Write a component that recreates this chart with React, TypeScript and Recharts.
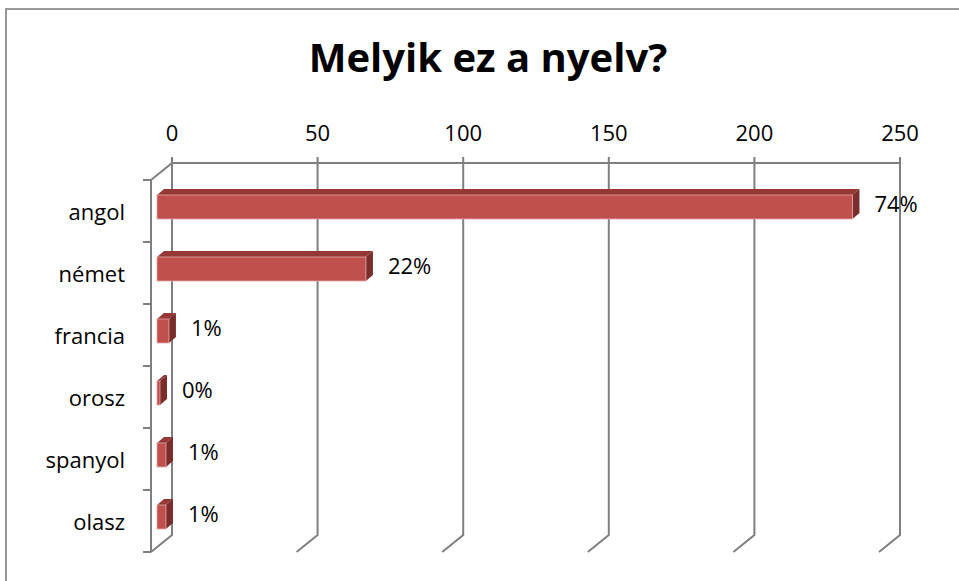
import React from 'react';
import { BarChart, Bar, XAxis, YAxis, CartesianGrid } from 'recharts';

const categories = ['angol', 'német', 'francia', 'orosz', 'spanyol', 'olasz'];
const values = [233, 70, 4, 1, 3, 3];
const percentLabels = ['74%', '22%', '1%', '0%', '1%', '1%'];
const xTicks = [0, 50, 100, 150, 200, 250];

const W = 959;
const H = 581;
const PLOT_TOP = 163;
const PLOT_LEFT = 172;
const PLOT_RIGHT = 900;
const PLOT_BOTTOM = 535;
const DEPTH_X = 21;
const DEPTH_Y = 17;
const BAND = (PLOT_BOTTOM - PLOT_TOP) / categories.length;
const WALL_X = PLOT_LEFT - DEPTH_X;

const FONT = '"Open Sans", "Liberation Sans", sans-serif';
const GRID = '#7f7f7f';

const data = categories.map((name, i) => ({ name, value: values[i] }));

// 3D box: front face shifted towards the viewer, top + side faces behind
function Bar3D(props: any) {
  const { x, y, width, height, index } = props;
  const fx = x - 15;
  const fy = y + 13;
  const fw = Math.max(width * 1.025, 1.5);
  const dx = 7;
  const dy = -6;
  return (
    <g>
      <polygon
        points={`${fx},${fy} ${fx + dx},${fy + dy} ${fx + fw + dx},${fy + dy} ${fx + fw},${fy}`}
        fill="#943735"
      />
      <polygon
        points={`${fx + fw},${fy} ${fx + fw + dx},${fy + dy} ${fx + fw + dx},${fy + height + dy} ${fx + fw},${fy + height}`}
        fill="#7b2d2b"
      />
      <rect x={fx} y={fy} width={fw} height={height} fill="#c0504d" stroke="#e3a9a7" strokeWidth={0.8} />
      <text x={fx + fw + dx + 15} y={fy + 17} fontSize={22} fontFamily={FONT} fill="#000">
        {percentLabels[index]}
      </text>
    </g>
  );
}

function XTick(props: any) {
  const { x, payload } = props;
  return (
    <g>
      <line x1={x} y1={PLOT_TOP - 6} x2={x} y2={PLOT_TOP} stroke={GRID} strokeWidth={2} />
      <text x={x} y={PLOT_TOP - 22} textAnchor="middle" fontSize={22} fontFamily={FONT} fill="#000">
        {payload.value}
      </text>
    </g>
  );
}

function YTick(props: any) {
  const { y, payload, index } = props;
  const top = y - BAND / 2 + DEPTH_Y;
  const last = index === categories.length - 1;
  return (
    <g>
      {index === 0 && (
        <line x1={WALL_X} y1={top} x2={PLOT_LEFT} y2={PLOT_TOP} stroke={GRID} strokeWidth={2} />
      )}
      <line x1={WALL_X - 8} y1={top} x2={WALL_X} y2={top} stroke={GRID} strokeWidth={2} />
      <line x1={WALL_X} y1={top} x2={WALL_X} y2={top + BAND} stroke={GRID} strokeWidth={2} />
      {last && (
        <line x1={WALL_X - 8} y1={top + BAND} x2={WALL_X} y2={top + BAND} stroke={GRID} strokeWidth={2} />
      )}
      <text x={WALL_X - 26} y={y + 26} textAnchor="end" fontSize={22} fontFamily={FONT} fill="#000">
        {payload.value}
      </text>
    </g>
  );
}

function GridLine(props: any) {
  const { x1, y1, y2 } = props;
  return (
    <path
      key={`g-${x1}`}
      d={`M${x1},${y1} V${y2} L${x1 - DEPTH_X},${y2 + DEPTH_Y}`}
      stroke={GRID}
      strokeWidth={2}
      fill="none"
    />
  );
}

export default function App() {
  return (
    <div
      style={{
        position: 'fixed',
        left: 0,
        top: 0,
        width: W,
        height: H,
        background: '#fff',
        overflow: 'hidden',
      }}
    >
      <div
        style={{
          position: 'absolute',
          left: 5,
          top: 8,
          width: 1200,
          height: 800,
          borderTop: '2px solid #999',
          borderLeft: '2px solid #999',
        }}
      />
      <div
        style={{
          position: 'absolute',
          left: 0,
          top: 37,
          width: 976,
          textAlign: 'center',
          fontFamily: FONT,
          fontWeight: 700,
          fontSize: 40,
          lineHeight: 1,
          color: '#000',
        }}
      >
        Melyik ez a nyelv?
      </div>
      <div style={{ position: 'absolute', left: 0, top: 0 }}>
        <BarChart
          width={W}
          height={H}
          data={data}
          layout="vertical"
          margin={{ top: PLOT_TOP - 30, left: PLOT_LEFT - 30, right: W - PLOT_RIGHT, bottom: H - PLOT_BOTTOM }}
        >
          <CartesianGrid horizontal={false} vertical={GridLine} />
          <XAxis
            type="number"
            orientation="top"
            domain={[0, 250]}
            ticks={xTicks}
            height={30}
            axisLine={{ stroke: GRID, strokeWidth: 2 }}
            tickLine={false}
            tick={XTick}
            interval={0}
          />
          <YAxis
            type="category"
            dataKey="name"
            width={30}
            axisLine={false}
            tickLine={false}
            tick={YTick}
            interval={0}
          />
          <Bar dataKey="value" barSize={24} isAnimationActive={false} shape={Bar3D} />
        </BarChart>
      </div>
    </div>
  );
}
